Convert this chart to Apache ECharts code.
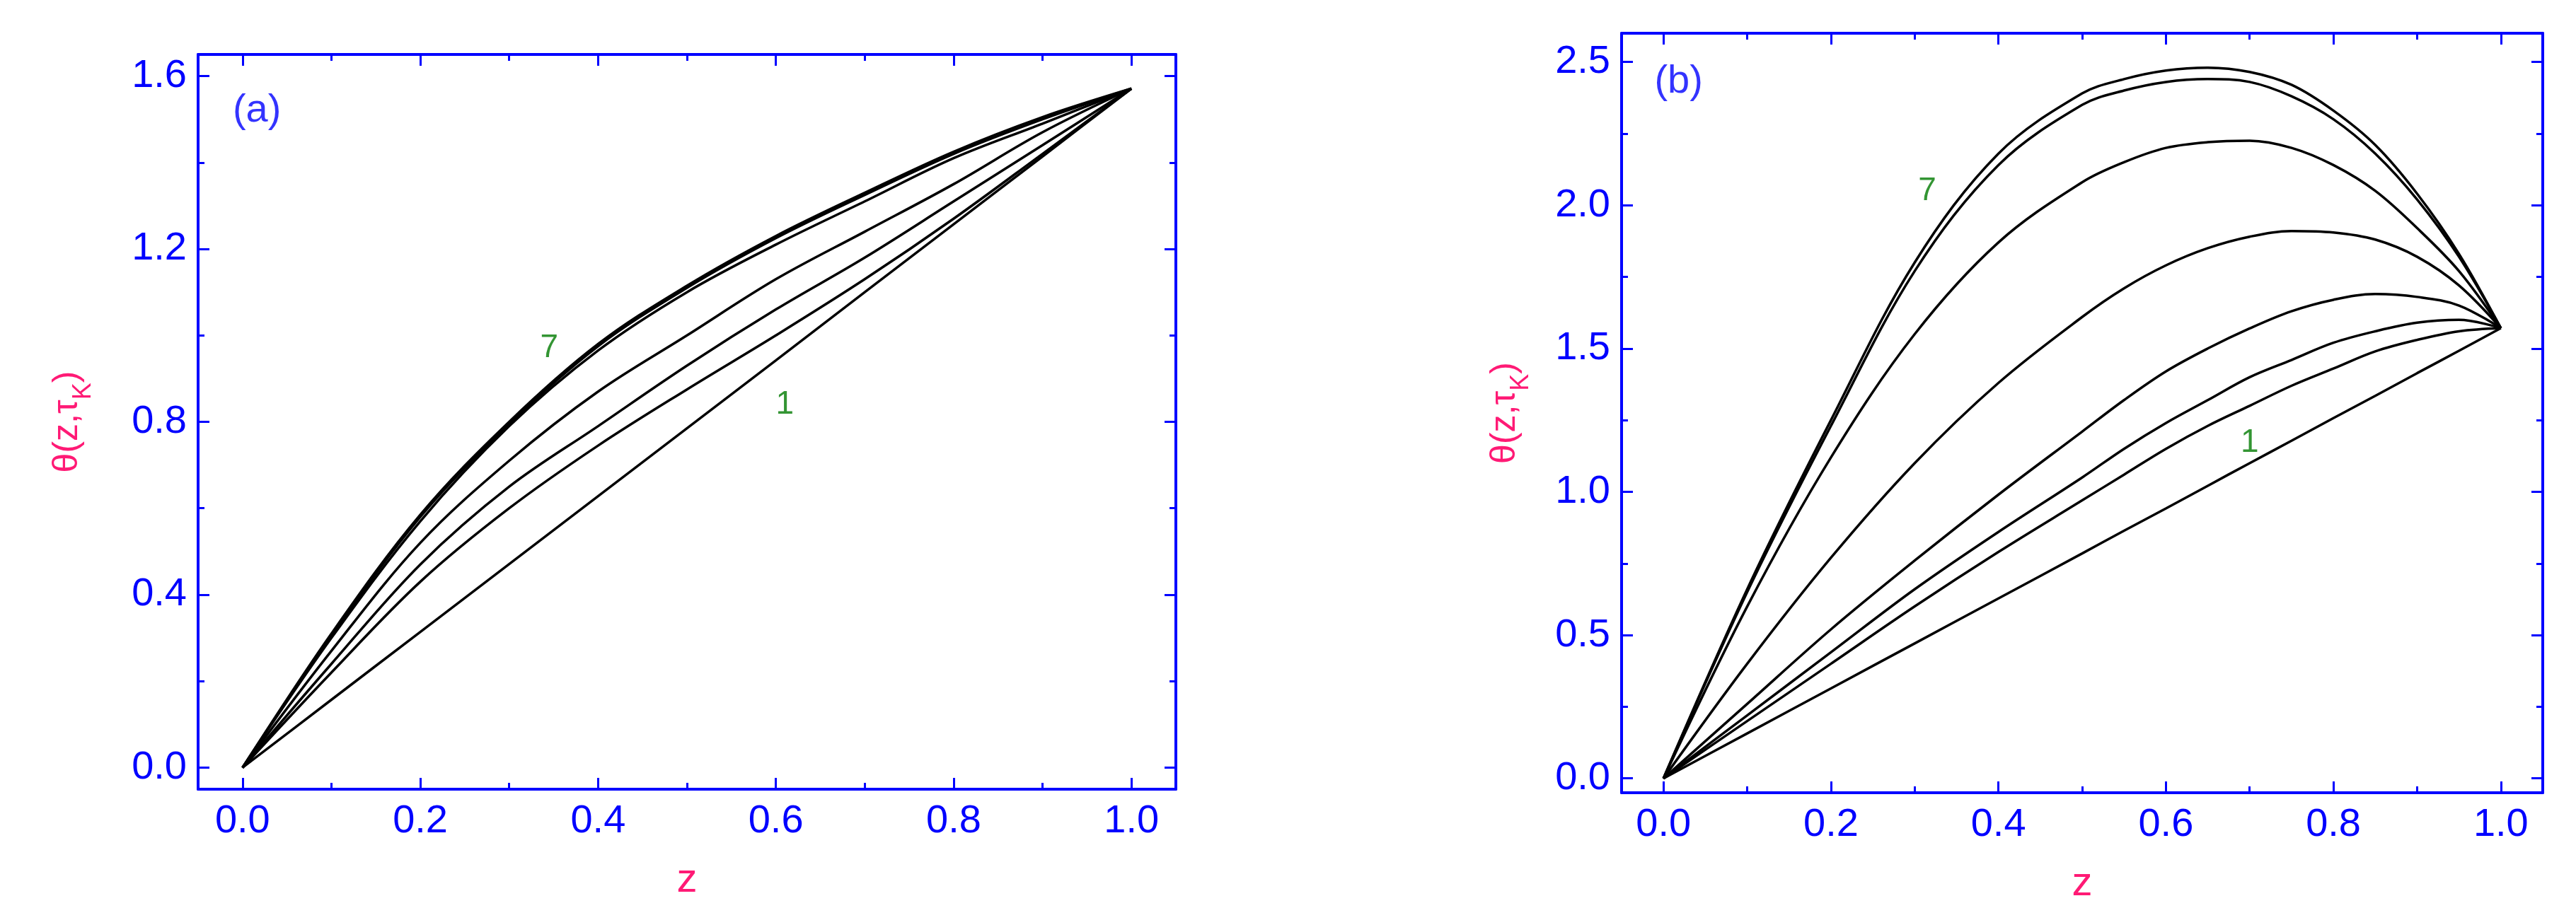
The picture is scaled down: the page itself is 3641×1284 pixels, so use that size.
<!DOCTYPE html>
<html><head><meta charset="utf-8">
<script src="https://cdn.jsdelivr.net/npm/echarts@6/dist/echarts.min.js"></script>
<style>html,body{margin:0;background:#fff}#c{width:3641px;height:1284px}</style>
</head><body><div id="c"></div>
<script>
const zValsA = [0,0.1,0.2,0.3,0.4,0.5,0.6,0.7,0.8,0.9,1.0];
const zValsB = [0,0.1,0.2,0.3,0.4,0.5,0.55,0.6,0.65,0.7,0.75,0.8,0.85,0.9,0.95,1.0];
const curvesA = [
 [0,.157,.314,.471,.628,.785,.942,1.100,1.257,1.414,1.571],
 [0,.22,.43,.60,.745,.875,1.00,1.13,1.27,1.42,1.571],
 [0,.24,.47,.65,.79,.93,1.06,1.18,1.31,1.44,1.571],
 [0,.27,.52,.71,.87,1.00,1.13,1.24,1.35,1.47,1.571],
 [0,.30,.57,.79,.965,1.10,1.21,1.31,1.41,1.49,1.571],
 [0,.305,.58,.795,.975,1.11,1.225,1.325,1.42,1.50,1.571],
 [0,.31,.585,.80,.98,1.115,1.23,1.33,1.425,1.505,1.571]
];
const curvesB = [
 [0,.157,.314,.471,.628,.785,.864,.942,1.021,1.100,1.178,1.257,1.335,1.414,1.492,1.571],
 [0,.20,.40,.60,.79,.97,1.06,1.15,1.23,1.30,1.37,1.43,1.49,1.53,1.56,1.571],
 [0,.22,.44,.66,.86,1.05,1.15,1.24,1.32,1.40,1.46,1.52,1.56,1.59,1.60,1.571],
 [0,.26,.52,.76,.99,1.21,1.32,1.42,1.50,1.57,1.63,1.67,1.69,1.68,1.65,1.571],
 [0,.40,.77,1.10,1.38,1.61,1.71,1.79,1.85,1.89,1.91,1.905,1.88,1.82,1.72,1.571],
 [0,.60,1.12,1.55,1.87,2.08,2.15,2.20,2.22,2.225,2.20,2.14,2.05,1.92,1.77,1.571],
 [0,.65,1.23,1.77,2.14,2.35,2.40,2.43,2.44,2.43,2.38,2.30,2.18,2.02,1.82,1.571],
 [0,.66,1.25,1.80,2.18,2.39,2.44,2.47,2.48,2.465,2.42,2.33,2.21,2.04,1.83,1.571]
];
const xTicks = [0,0.2,0.4,0.6,0.8,1.0];
const xMinor = [0.1,0.3,0.5,0.7,0.9];
const yTicksA = [0,0.4,0.8,1.2,1.6];
const yMinorA = [0.2,0.6,1.0,1.4];
const yTicksB = [0,0.5,1.0,1.5,2.0,2.5];
const yMinorB = [0.25,0.75,1.25,1.75,2.25];
const labelsA = [[0.345,0.97,'7'],[0.61,0.84,'1']];
const labelsB = [[0.315,2.05,'7'],[0.70,1.17,'1']];
const panelTags = ['(a)','(b)'];

const BLUE='#0000ff', PINK='#ff1a75', GREEN='#007a00';
const FONT='Liberation Sans Narrow, Liberation Sans, Arial';
const grids=[{left:280,top:77,width:1382,height:1039},{left:2292,top:47,width:1302,height:1083}];
const yR=[[-0.05,1.65],[-0.05,2.6]];
const xAxes=[],yAxes=[];
function ax(g,pos,min,max,ticks,len,lineShow,opts){
  return Object.assign({type:'value',gridIndex:g,position:pos,min:min,max:max,
   splitLine:{show:false},
   axisLine:{show:lineShow,onZero:false,lineStyle:{color:BLUE,width:4}},
   axisTick:{show:true,inside:true,length:len,customValues:ticks,lineStyle:{color:BLUE,width:3}},
   axisLabel:{show:false}},opts||{});
}
[0,1].forEach(g=>{
  const yt=g?yTicksB:yTicksA, ym=g?yMinorB:yMinorA;
  xAxes.push(ax(g,'bottom',-0.05,1.05,xTicks,16,true,{
    axisLabel:{show:true,customValues:xTicks,color:BLUE,fontFamily:FONT,fontSize:56,margin:18,formatter:v=>v.toFixed(1)},
    name:'z',nameLocation:'middle',nameGap:100,nameTextStyle:{color:PINK,fontFamily:FONT,fontSize:58}}));
  xAxes.push(ax(g,'top',-0.05,1.05,xTicks,16,true));
  xAxes.push(ax(g,'bottom',-0.05,1.05,xMinor,9,false));
  xAxes.push(ax(g,'top',-0.05,1.05,xMinor,9,false));
  yAxes.push(ax(g,'left',yR[g][0],yR[g][1],yt,16,true,{
    axisLabel:{show:true,customValues:yt,color:BLUE,fontFamily:FONT,fontSize:56,margin:16,formatter:v=>v.toFixed(1)},
    name:'θ(z,τ{s|K})',nameLocation:'middle',nameRotate:90,nameGap:g?140:160,
    nameTextStyle:{color:PINK,fontFamily:FONT,fontSize:50,rich:{s:{color:PINK,fontFamily:FONT,fontSize:36,verticalAlign:'bottom',padding:[0,0,-16,0]}}}}));
  yAxes.push(ax(g,'right',yR[g][0],yR[g][1],yt,16,true));
  yAxes.push(ax(g,'left',yR[g][0],yR[g][1],ym,9,false));
  yAxes.push(ax(g,'right',yR[g][0],yR[g][1],ym,9,false));
});
const series=[];
[[curvesA,zValsA],[curvesB,zValsB]].forEach(([cs,zs],g)=>{
  cs.forEach(c=>series.push({type:'line',xAxisIndex:g*4,yAxisIndex:g*4,smooth:0.35,symbol:'none',silent:true,
    lineStyle:{color:'#000',width:3.5},data:zs.map((z,i)=>[z,c[i]])}));
  const lb=g?labelsB:labelsA;
  series.push({type:'scatter',xAxisIndex:g*4,yAxisIndex:g*4,symbolSize:0,silent:true,
    data:lb.map(l=>({value:[l[0],l[1]],name:l[2]})),
    label:{show:true,position:'inside',formatter:p=>p.name,color:GREEN,fontFamily:FONT,fontSize:46}});
  series.push({type:'scatter',xAxisIndex:g*4,yAxisIndex:g*4,symbolSize:0,silent:true,
    data:[{value:[-0.015,g?2.43:1.52],name:panelTags[g]}],
    label:{show:true,position:'right',formatter:p=>p.name,color:BLUE,fontFamily:FONT,fontSize:56}});
});
const chart=echarts.init(document.getElementById('c'));
chart.setOption({animation:false,backgroundColor:'#fff',grid:grids,xAxis:xAxes,yAxis:yAxes,series:series});
</script></body></html>
